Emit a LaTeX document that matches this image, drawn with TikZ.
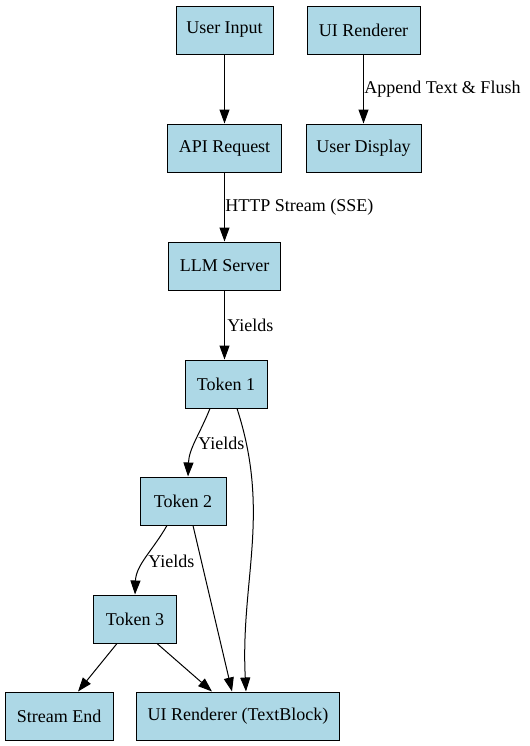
\documentclass[tikz,border=0pt]{standalone}
\usepackage{fontspec}
\setmainfont{Liberation Serif}
\usetikzlibrary{arrows.meta}
\definecolor{lightblue}{RGB}{173,216,230}
\tikzset{
    box/.style={draw, fill=lightblue, line width=0.75pt, minimum height=36pt, inner sep=0pt, font=\fontsize{13.5}{15}\selectfont},
    flow/.style={-{Triangle[length=10.5pt, width=7.5pt]}, line width=0.75pt},
    lbl/.style={anchor=west, inner sep=0pt, font=\fontsize{13.5}{15}\selectfont},
}
\begin{document}
\begin{tikzpicture}[x=0.75pt, y=-0.75pt]
    \useasboundingbox (0, 0) rectangle (529, 746);
    \node[box, minimum width=72.75pt] (input) at (224.5, 30) {User Input};
    \node[box, minimum width=84.75pt] (ui) at (363.5, 30) {UI Renderer};
    \node[box, minimum width=85.5pt] (api) at (224.5, 148) {API Request};
    \node[box, minimum width=86.25pt] (display) at (363.5, 148) {User Display};
    \node[box, minimum width=84pt] (llm) at (224.5, 266) {LLM Server};
    \node[box, minimum width=61.5pt] (tok1) at (226, 384) {Token 1};
    \node[box, minimum width=64.5pt] (tok2) at (183, 501) {Token 2};
    \node[box, minimum width=62.25pt] (tok3) at (135, 619) {Token 3};
    \node[box, minimum width=81pt] (end) at (59, 716) {Stream End};
    \node[box, minimum width=152.25pt] (text) at (238, 716) {UI Renderer (TextBlock)};
    % top part
    \draw[flow] (input) -- (api);
    \draw[flow] (ui) -- (display);
    \draw[flow] (api) -- (llm);
    \draw[flow] (llm) -- (llm |- tok1.north);
    \node[lbl] (appendlbl) at (364, 89) {Append Text \& Flush};
    \node[lbl] (httplbl) at (225, 207) {HTTP Stream (SSE)};
    \node[lbl] (yield1) at (227, 325) {Yields};
    % tokens
    \draw[flow] ([xshift=-12pt]tok1.south) to[out=-112, in=88] ([xshift=3.75pt]tok2.north);
    \node[lbl] (yield2) at (198, 443) {Yields};
    \draw[flow] ([xshift=-12pt]tok2.south) to[out=-120, in=88] ([xshift=0pt]tok3.north);
    \node[lbl] (yield3) at (148, 561) {Yields};
    \draw[flow] ([xshift=8.25pt]tok1.south) to[out=-72, in=93] ([xshift=6pt]text.north);
    \draw[flow] ([xshift=7.5pt]tok2.south) -- ([xshift=-4.5pt]text.north);
    \draw[flow] ([xshift=-13.5pt]tok3.south) -- ([xshift=14.25pt]end.north);
    \draw[flow] ([xshift=16.5pt]tok3.south) -- ([xshift=-19.5pt]text.north);
\end{tikzpicture}
\end{document}
